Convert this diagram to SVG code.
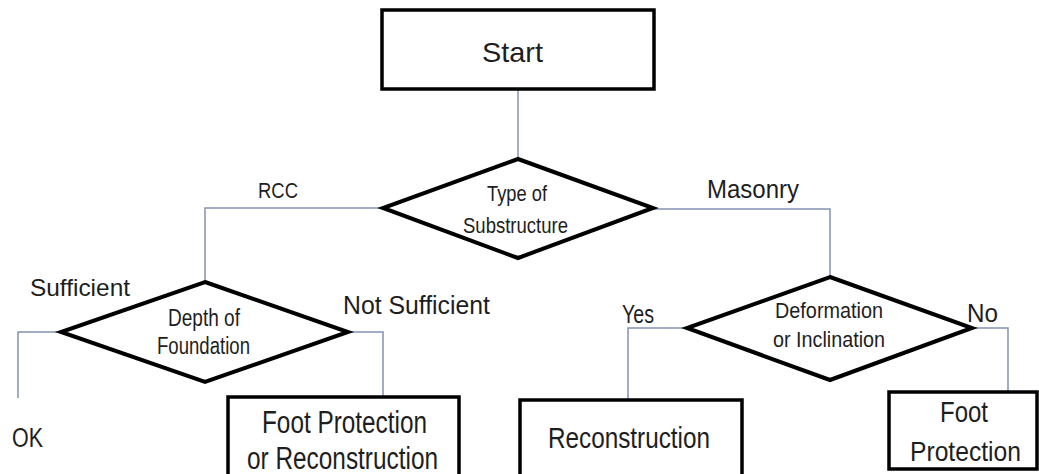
<svg xmlns="http://www.w3.org/2000/svg" width="1039" height="474" viewBox="0 0 1039 474">
  <style>
    .box { fill: #ffffff; stroke: #000000; stroke-width: 3.5; }
    .dec { fill: #ffffff; stroke: #000000; stroke-width: 4; stroke-linejoin: miter; }
    .link { fill: none; stroke: #8193b3; stroke-width: 1.5; }
    text { font-family: "Liberation Sans", Arial, sans-serif; fill: #1e1e1e; text-anchor: middle; }
  </style>
  <rect width="1039" height="474" fill="#ffffff"/>

  <!-- connectors -->
  <g id="connectors">
    <path class="link" d="M518,89 V159"/>
    <path class="link" d="M383,208 H205 V282"/>
    <path class="link" d="M653,209 H830 V277"/>
    <path class="link" d="M61,332 H18 V398"/>
    <path class="link" d="M348,332 H383 V397"/>
    <path class="link" d="M687,328 H628 V400"/>
    <path class="link" d="M972,328 H1008 V392"/>
  </g>

  <!-- branch labels -->
  <g id="labels">
    <text x="278" y="198" style="font-size:22px" textLength="40" lengthAdjust="spacingAndGlyphs">RCC</text>
    <text x="753" y="198" style="font-size:25px" textLength="92" lengthAdjust="spacingAndGlyphs">Masonry</text>
    <text x="80" y="296" style="font-size:24px" textLength="100" lengthAdjust="spacingAndGlyphs">Sufficient</text>
    <text x="416.5" y="314" style="font-size:26px" textLength="147" lengthAdjust="spacingAndGlyphs">Not Sufficient</text>
    <text x="638" y="323" style="font-size:25px" textLength="32" lengthAdjust="spacingAndGlyphs">Yes</text>
    <text x="982.5" y="322" style="font-size:25px" textLength="31" lengthAdjust="spacingAndGlyphs">No</text>
  </g>

  <g id="start">
    <rect class="box" x="382" y="10" width="272" height="79"/>
    <text x="512.5" y="62" style="font-size:28px" textLength="61" lengthAdjust="spacingAndGlyphs">Start</text>
  </g>

  <g id="type-of-substructure">
    <polygon class="dec" points="518,159 653,208 518,258 383,208"/>
    <text x="517" y="201" style="font-size:22px" textLength="60" lengthAdjust="spacingAndGlyphs">Type of</text>
    <text x="515.5" y="233" style="font-size:22px" textLength="105" lengthAdjust="spacingAndGlyphs">Substructure</text>
  </g>

  <g id="depth-of-foundation">
    <polygon class="dec" points="205,282 348,332 205,382 61,332"/>
    <text x="204" y="326" style="font-size:23px" textLength="72" lengthAdjust="spacingAndGlyphs">Depth of</text>
    <text x="203.5" y="354" style="font-size:23px" textLength="93" lengthAdjust="spacingAndGlyphs">Foundation</text>
  </g>

  <g id="deformation">
    <polygon class="dec" points="830,277 972,328 830,380 687,328"/>
    <text x="829" y="318" style="font-size:22px" textLength="108" lengthAdjust="spacingAndGlyphs">Deformation</text>
    <text x="829" y="347" style="font-size:22px" textLength="112" lengthAdjust="spacingAndGlyphs">or Inclination</text>
  </g>

  <g id="ok">
    <text x="27.5" y="447" style="font-size:27px" textLength="31" lengthAdjust="spacingAndGlyphs">OK</text>
  </g>

  <g id="foot-protection-or-reconstruction">
    <rect class="box" x="228" y="397" width="231" height="90"/>
    <text x="344.5" y="433" style="font-size:31px" textLength="165" lengthAdjust="spacingAndGlyphs">Foot Protection</text>
    <text x="342.5" y="469" style="font-size:31px" textLength="191" lengthAdjust="spacingAndGlyphs">or Reconstruction</text>
  </g>

  <g id="reconstruction">
    <rect class="box" x="520" y="400" width="222" height="90"/>
    <text x="629" y="448" style="font-size:29px" textLength="162" lengthAdjust="spacingAndGlyphs">Reconstruction</text>
  </g>

  <g id="foot-protection">
    <rect class="box" x="889" y="392" width="148" height="77"/>
    <text x="964" y="422" style="font-size:29px" textLength="48" lengthAdjust="spacingAndGlyphs">Foot</text>
    <text x="965.5" y="461" style="font-size:28px" textLength="111" lengthAdjust="spacingAndGlyphs">Protection</text>
  </g>
</svg>
